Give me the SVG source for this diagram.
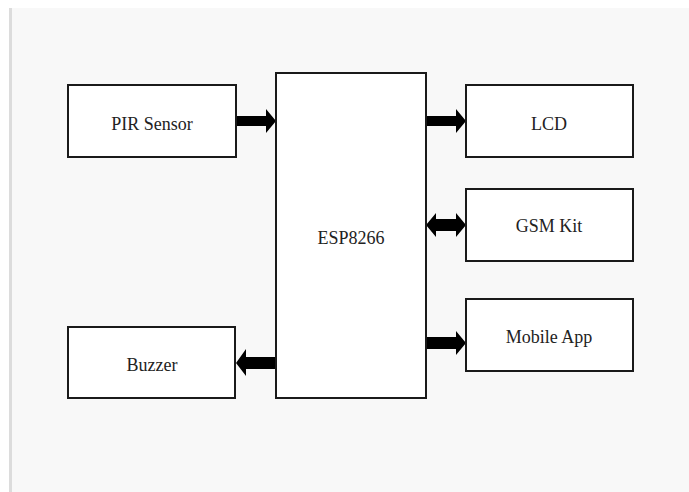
<svg xmlns="http://www.w3.org/2000/svg" width="689" height="492" viewBox="0 0 689 492">
<defs>
<style>
.box{fill:#ffffff;stroke:#1a1a1a;stroke-width:2}
.lbl{font-family:'Liberation Serif','Times New Roman','DejaVu Serif',serif;font-size:18px;fill:#222;text-anchor:middle;dominant-baseline:central}
.arr{fill:#000}
</style>
</defs>
<rect x="0" y="0" width="689" height="492" fill="#ffffff"/>
<rect x="12" y="8" width="677" height="484" fill="#f8f8f8"/>
<rect x="9" y="8" width="3" height="484" fill="#dcdcdc"/>
<g id="connectors">
<path class="arr" d="M236,116 H266 V109 L276,121 L266,133 V126 H236 Z"/>
<path class="arr" d="M426,116 H456 V109 L466,121 L456,133 V126 H426 Z"/>
<path class="arr" d="M426,225 L436,213 V219 H456 V213 L466,225 L456,237 V231 H436 V237 Z"/>
<path class="arr" d="M426,337 H456 V331 L466,343 L456,355 V349 H426 Z"/>
<path class="arr" d="M276,357 H246 V349 L236,363 L246,376 V369 H276 Z"/>
</g>
<g id="pir"><rect class="box" x="68" y="85" width="168" height="72"/><text class="lbl" x="152" y="124" font-family="Liberation Serif, serif">PIR Sensor</text></g>
<g id="esp"><rect class="box" x="276" y="73" width="150" height="325"/><text class="lbl" x="351" y="238" font-family="Liberation Serif, serif">ESP8266</text></g>
<g id="lcd"><rect class="box" x="466" y="85" width="167" height="72"/><text class="lbl" x="549" y="124" font-family="Liberation Serif, serif">LCD</text></g>
<g id="gsm"><rect class="box" x="466" y="189" width="167" height="72"/><text class="lbl" x="549" y="226" font-family="Liberation Serif, serif">GSM Kit</text></g>
<g id="app"><rect class="box" x="466" y="299" width="167" height="72"/><text class="lbl" x="549" y="337" font-family="Liberation Serif, serif">Mobile App</text></g>
<g id="buzzer"><rect class="box" x="68" y="327" width="167" height="71"/><text class="lbl" x="152" y="365" font-family="Liberation Serif, serif">Buzzer</text></g>
</svg>
